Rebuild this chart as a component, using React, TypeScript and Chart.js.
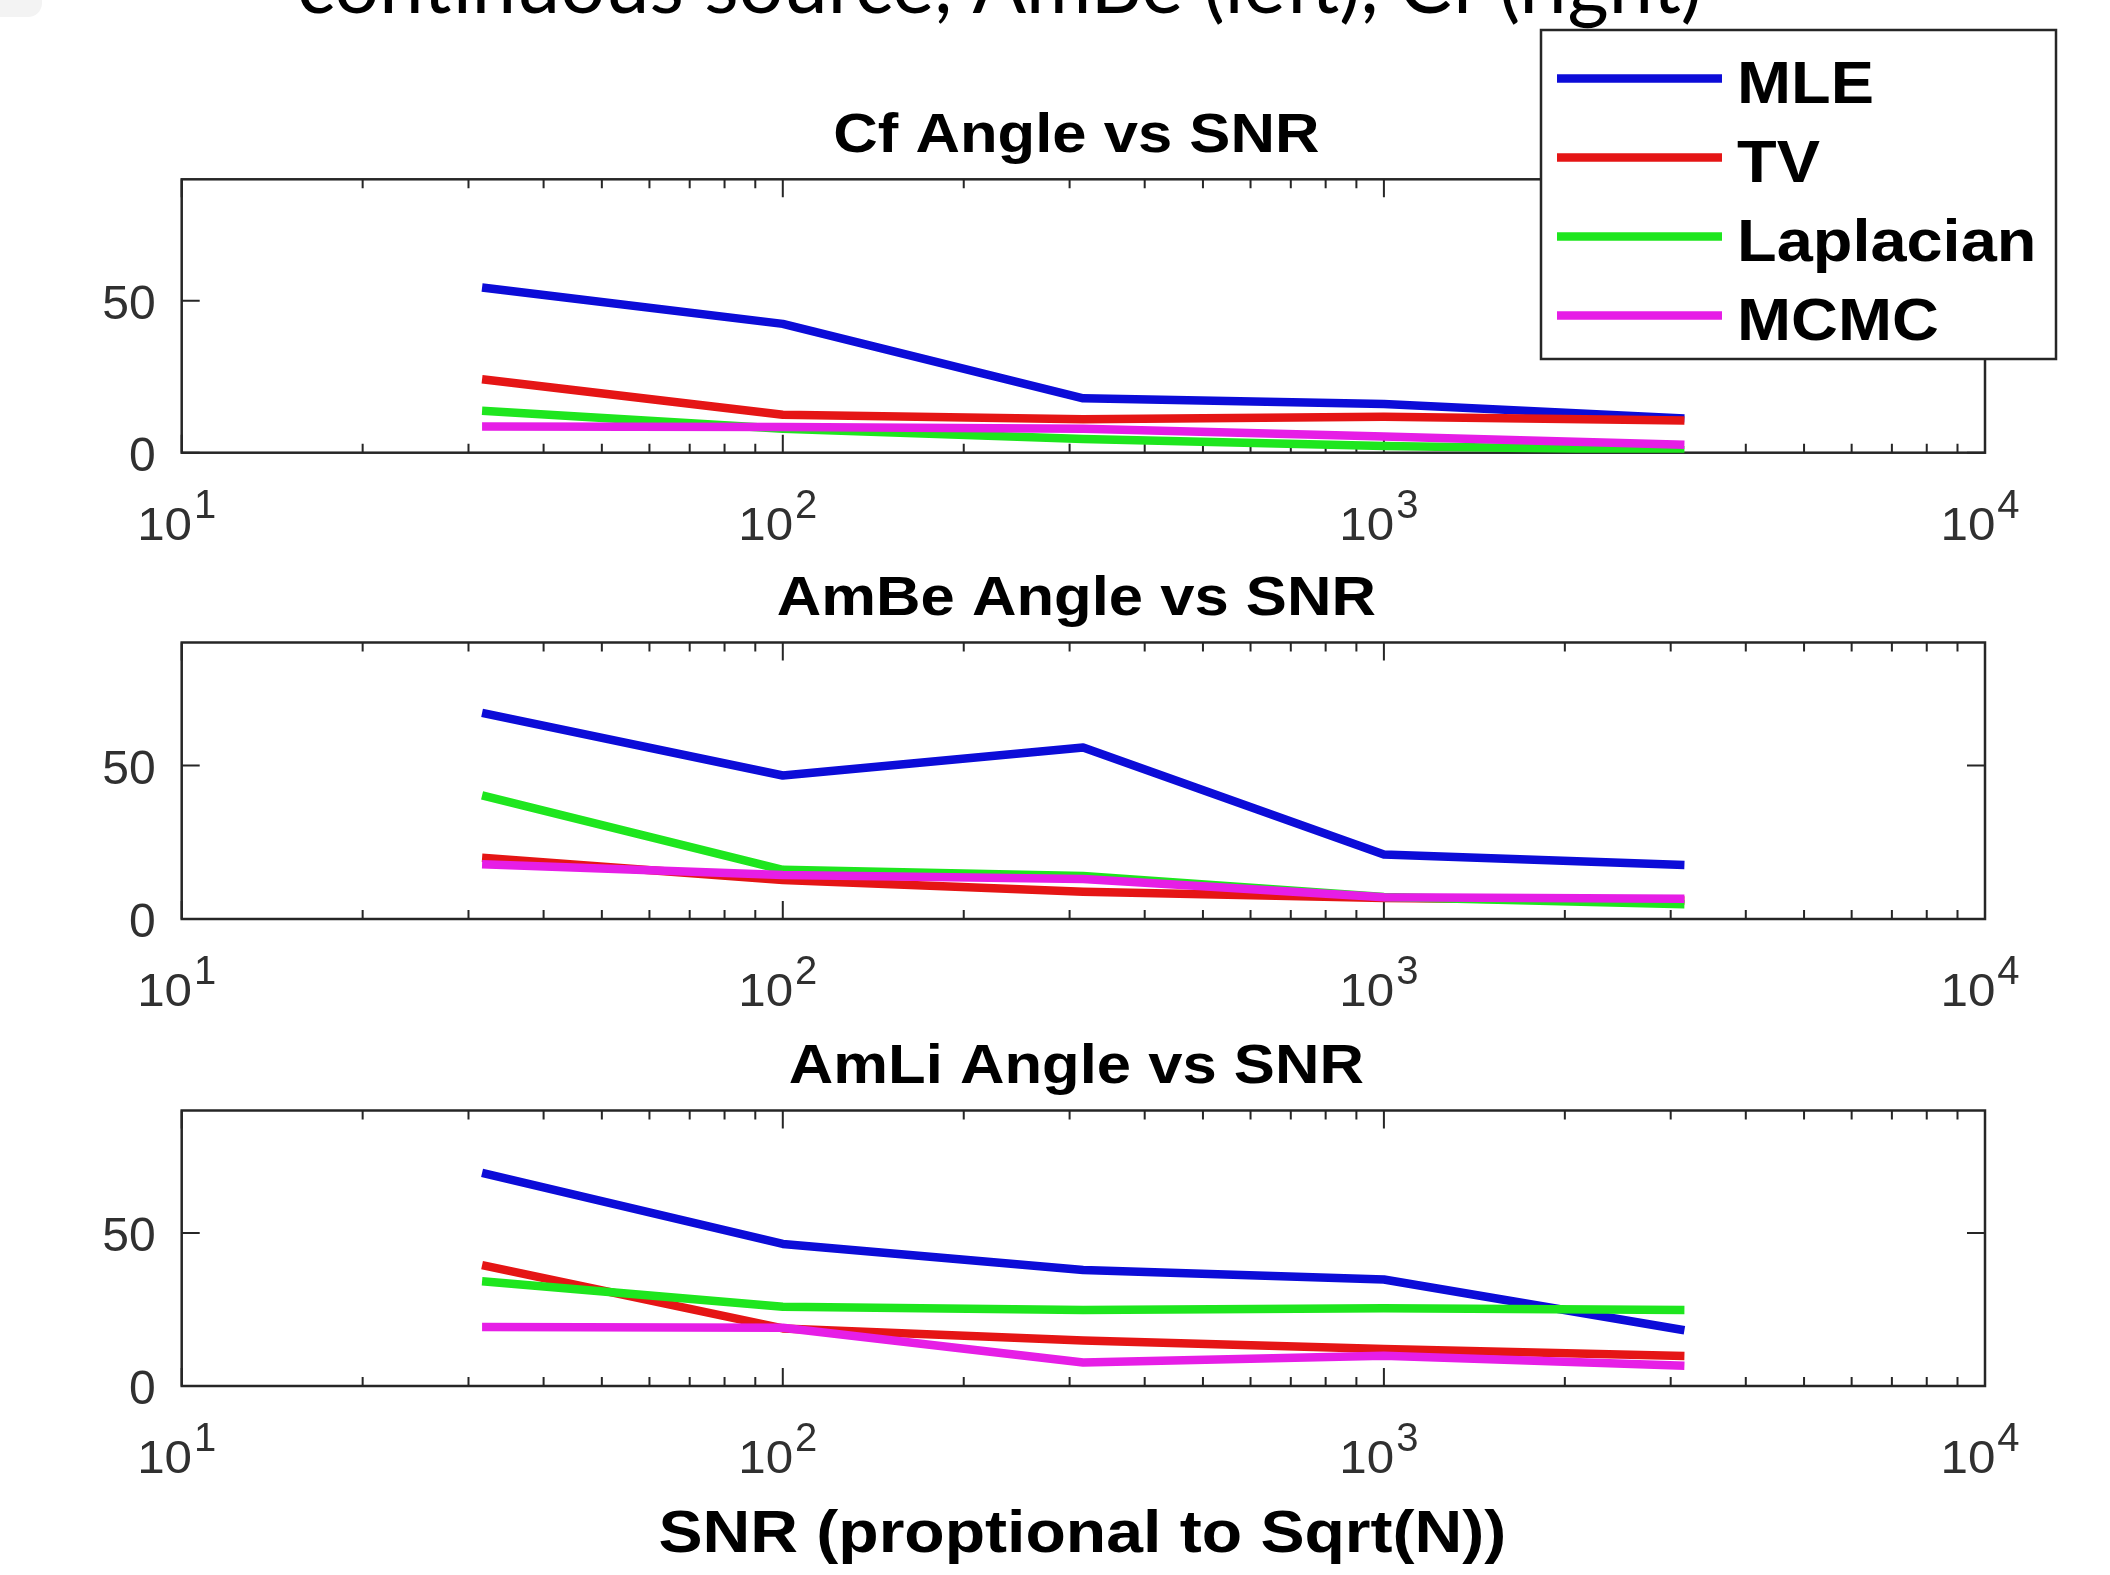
import React, { useEffect, useRef } from 'react';
import { Chart, registerables } from 'chart.js';

Chart.register(...registerables);

// ---------------- data ----------------
const SNR = [31.6, 100, 316, 1000, 3162];
const SERIES_NAMES = ['MLE', 'TV', 'Laplacian', 'MCMC'];
const SERIES_COLORS = ['#0c0cd8', '#e51515', '#1ee61e', '#e61ee6'];

const CF_MLE = [54.4, 42.4, 17.9, 16.0, 11.3];
const CF_TV = [24.2, 12.5, 11.0, 11.8, 10.6];
const CF_LAPLACIAN = [13.8, 7.9, 4.5, 2.2, 0.8];
const CF_MCMC = [8.6, 8.5, 7.9, 5.3, 2.6];

const AMBE_MLE = [67.1, 46.7, 55.8, 21.0, 17.6];
const AMBE_TV = [19.9, 12.7, 8.9, 6.8, 6.0];
const AMBE_LAPLACIAN = [40.2, 16.0, 14.0, 7.2, 4.8];
const AMBE_MCMC = [17.8, 14.3, 13.0, 7.1, 6.6];

const AMLI_MLE = [69.6, 46.4, 37.9, 34.8, 18.2];
const AMLI_TV = [39.5, 18.8, 14.9, 12.1, 9.8];
const AMLI_LAPLACIAN = [34.2, 25.9, 24.8, 25.4, 24.8];
const AMLI_MCMC = [19.3, 19.0, 7.7, 9.9, 6.6];

const PANEL_TITLES = ['Cf Angle vs SNR', 'AmBe Angle vs SNR', 'AmLi Angle vs SNR'];
const PANEL_SERIES = [
  [CF_MLE, CF_TV, CF_LAPLACIAN, CF_MCMC],
  [AMBE_MLE, AMBE_TV, AMBE_LAPLACIAN, AMBE_MCMC],
  [AMLI_MLE, AMLI_TV, AMLI_LAPLACIAN, AMLI_MCMC],
];
const X_LABEL = 'SNR (proptional to Sqrt(N))';
const SUPTITLE = 'continuous source, AmBe (left), Cf (right)';

const X_MIN = 10;
const X_MAX = 10000;
const Y_MIN = 0;
const Y_MAX = 90;
const Y_TICKS = [0, 50];
const X_MAJOR_TICKS = [10, 100, 1000, 10000];
const X_MINOR_TICKS = [20, 30, 40, 50, 60, 70, 80, 90, 200, 300, 400, 500, 600, 700, 800, 900, 2000, 3000, 4000, 5000, 6000, 7000, 8000, 9000];

// ---------------- layout ----------------
const W = 2110;
const H = 1575;
const AREA_LEFT = 181.7;
const AREA_RIGHT = 1985;
const PANELS = [
  { top: 0, height: 560, areaTop: 179.3, areaBottom: 452.7 },
  { top: 560, height: 465, areaTop: 642.5, areaBottom: 919 },
  { top: 1025, height: 550, areaTop: 1110.5, areaBottom: 1386 },
];
const SANS = '"Liberation Sans", Arial, Helvetica, sans-serif';
const AXIS_COLOR = '#262626';
const TICK_TEXT = '#303030';

function drawText(
  ctx: CanvasRenderingContext2D,
  text: string,
  x: number,
  y: number,
  font: string,
  align: 'left' | 'center' | 'right',
  sx: number,
  color: string
) {
  ctx.save();
  ctx.font = font;
  ctx.fillStyle = color;
  ctx.textBaseline = 'alphabetic';
  ctx.textAlign = 'left';
  const w = ctx.measureText(text).width * sx;
  const left = align === 'left' ? x : align === 'center' ? x - w / 2 : x - w;
  ctx.translate(left, y);
  ctx.scale(sx, 1);
  ctx.fillText(text, 0, 0);
  ctx.restore();
}

function makeDecor(panelIndex: number) {
  return {
    id: 'panelDecor' + panelIndex,
    beforeDatasetsDraw(chart: any) {
      const ctx: CanvasRenderingContext2D = chart.ctx;
      const { left, right, top, bottom } = chart.chartArea;
      ctx.save();
      ctx.strokeStyle = AXIS_COLOR;
      ctx.lineWidth = 2.5;
      ctx.strokeRect(left, top, right - left, bottom - top);
      ctx.lineWidth = 2;
      const xs = chart.scales.x;
      xs.ticks.forEach((t: any) => {
        const px = xs.getPixelForValue(t.value);
        const len = X_MAJOR_TICKS.includes(t.value) ? 18 : 9;
        ctx.beginPath();
        ctx.moveTo(px, bottom);
        ctx.lineTo(px, bottom - len);
        ctx.moveTo(px, top);
        ctx.lineTo(px, top + len);
        ctx.stroke();
      });
      const ys = chart.scales.y;
      ys.ticks.forEach((t: any) => {
        const py = ys.getPixelForValue(t.value);
        ctx.beginPath();
        ctx.moveTo(left, py);
        ctx.lineTo(left + 18, py);
        ctx.moveTo(right, py);
        ctx.lineTo(right - 18, py);
        ctx.stroke();
      });
      ctx.restore();
    },
    afterDraw(chart: any) {
      const ctx: CanvasRenderingContext2D = chart.ctx;
      const { left, right, top, bottom } = chart.chartArea;
      const cx = (left + right) / 2;
      // panel title
      drawText(ctx, PANEL_TITLES[panelIndex], cx - 7, top - 27.6, `bold 56px ${SANS}`, 'center', 1.1, '#000');
      // x tick labels 10^k
      const xs = chart.scales.x;
      X_MAJOR_TICKS.forEach((v) => {
        const px = xs.getPixelForValue(v);
        const exp = String(Math.round(Math.log10(v)));
        ctx.save();
        ctx.font = `47px ${SANS}`;
        const wBase = ctx.measureText('10').width * 1.05;
        ctx.font = `40px ${SANS}`;
        const wExp = ctx.measureText(exp).width;
        ctx.restore();
        const total = wBase + 2 + wExp;
        const start = px - total / 2 - 5;
        const base = bottom + 87.3;
        drawText(ctx, '10', start, base, `47px ${SANS}`, 'left', 1.05, TICK_TEXT);
        drawText(ctx, exp, start + wBase + 2, base - 22, `40px ${SANS}`, 'left', 1.0, TICK_TEXT);
      });
      if (panelIndex === 2) {
        drawText(ctx, X_LABEL, cx - 1, bottom + 165.6, `bold 59px ${SANS}`, 'center', 1.12, '#000');
      }
      if (panelIndex === 0) {
        // cut-off slide title at the very top
        ctx.save();
        const fam = 'Lato, "Open Sans", sans-serif';
        ctx.font = `100px ${fam}`;
        const w100 = ctx.measureText(SUPTITLE).width;
        ctx.restore();
        const size = (100 * 1405) / w100;
        drawText(ctx, SUPTITLE, 297, 12.5, `${size.toFixed(2)}px Lato, "Open Sans", sans-serif`, 'left', 1, '#000');
        // legend
        const bx = 1541;
        const by = 30;
        const bw = 515;
        const bh = 329;
        ctx.save();
        ctx.fillStyle = '#ffffff';
        ctx.fillRect(bx, by, bw, bh);
        ctx.strokeStyle = AXIS_COLOR;
        ctx.lineWidth = 2.5;
        ctx.strokeRect(bx, by, bw, bh);
        ctx.restore();
        chart.data.datasets.forEach((ds: any, i: number) => {
          const y = 78.5 + i * 79;
          ctx.save();
          ctx.strokeStyle = ds.borderColor;
          ctx.lineWidth = 8.5;
          ctx.beginPath();
          ctx.moveTo(1557, y);
          ctx.lineTo(1722, y);
          ctx.stroke();
          ctx.restore();
          drawText(ctx, ds.label, 1737, y + 24.5, `bold 59px ${SANS}`, 'left', 1.1, '#000');
        });
      }
    },
  };
}

function Panel({ index }: { index: number }) {
  const ref = useRef<HTMLCanvasElement | null>(null);
  const p = PANELS[index];
  useEffect(() => {
    if (!ref.current) return;
    const series = PANEL_SERIES[index];
    const xAxisHeight = p.top + p.height - p.areaBottom;
    const chart = new Chart(ref.current, {
      type: 'line',
      data: {
        datasets: SERIES_NAMES.map((name, i) => ({
          label: name,
          data: SNR.map((x, j) => ({ x, y: series[i][j] })),
          borderColor: SERIES_COLORS[i],
          backgroundColor: SERIES_COLORS[i],
          borderWidth: 8.5,
          borderJoinStyle: 'round' as const,
          pointRadius: 0,
          fill: false,
          tension: 0,
          order: SERIES_NAMES.length - 1 - i,
        })),
      },
      options: {
        animation: false,
        responsive: false,
        maintainAspectRatio: false,
        events: [],
        layout: { padding: { left: 0, right: W - AREA_RIGHT, top: p.areaTop - p.top, bottom: 0 } },
        plugins: {
          legend: { display: false },
          tooltip: { enabled: false },
          title: { display: false },
        },
        scales: {
          x: {
            type: 'logarithmic',
            min: X_MIN,
            max: X_MAX,
            position: 'bottom',
            grid: { display: false, drawTicks: false },
            border: { display: false },
            ticks: { display: false },
            afterBuildTicks: (s: any) => {
              s.ticks = [...X_MAJOR_TICKS, ...X_MINOR_TICKS].sort((a, b) => a - b).map((v) => ({ value: v }));
            },
            afterFit: (s: any) => {
              s.height = xAxisHeight;
            },
          },
          y: {
            type: 'linear',
            min: Y_MIN,
            max: Y_MAX,
            grid: { display: false, drawTicks: false },
            border: { display: false },
            ticks: { font: { family: SANS, size: 48 }, color: TICK_TEXT, padding: 26, labelOffset: 5 },
            afterBuildTicks: (s: any) => {
              s.ticks = Y_TICKS.map((v) => ({ value: v }));
            },
            afterFit: (s: any) => {
              s.width = AREA_LEFT;
            },
          },
        },
      } as any,
      plugins: [makeDecor(index)],
    });
    return () => chart.destroy();
  }, [index]);
  return (
    <canvas
      ref={ref}
      width={W}
      height={p.height}
      style={{ position: 'absolute', left: 0, top: p.top, width: W, height: p.height }}
    />
  );
}

export default function App() {
  return (
    <div style={{ position: 'absolute', left: 0, top: 0, width: W, height: H, background: '#ffffff', overflow: 'hidden' }}>
      <div
        style={{
          position: 'absolute',
          left: 0,
          top: 0,
          width: 42,
          height: 17,
          background: '#f3f3f3',
          borderBottomRightRadius: 14,
        }}
      />
      {PANELS.map((_, i) => (
        <Panel key={i} index={i} />
      ))}
    </div>
  );
}
